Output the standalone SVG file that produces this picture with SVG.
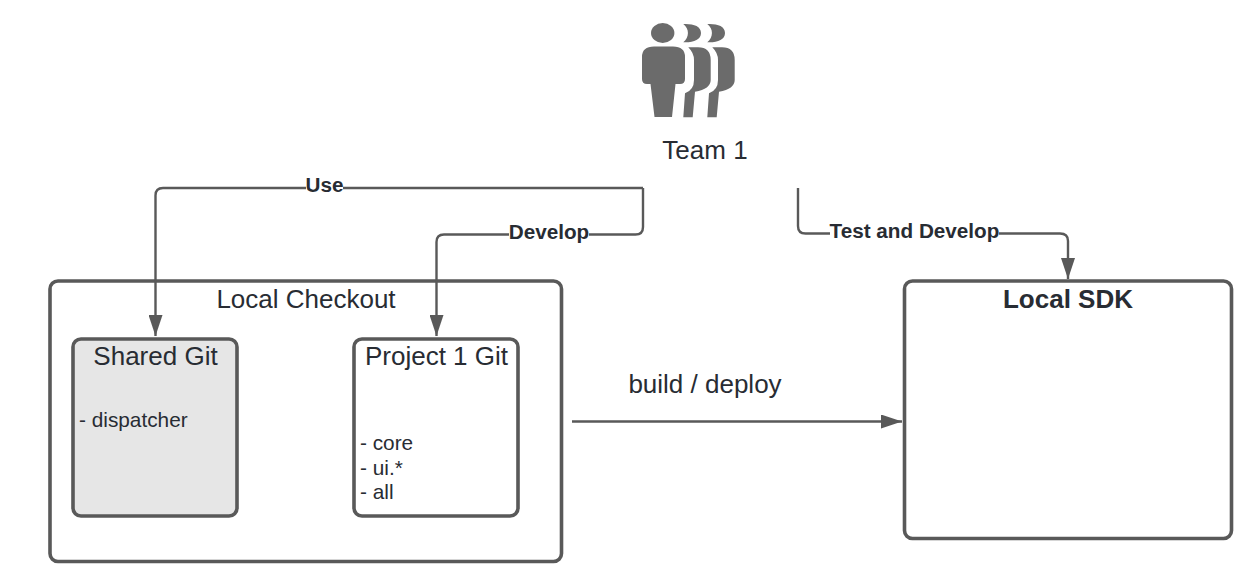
<svg xmlns="http://www.w3.org/2000/svg" width="1260" height="576" viewBox="0 0 1260 576">
<style>
text{font-family:"Liberation Sans",Arial,sans-serif;fill:#282c33}
.box{fill:#fff;stroke:#595959;stroke-width:3.6}
.line{fill:none;stroke:#595959;stroke-width:2.4}
.lbl{font-size:20.700px;font-weight:bold;text-anchor:middle}
.t{font-size:26px;text-anchor:middle}
.s{font-size:20.800px}
.icon{fill:#6b6b6b}
</style>
<defs>
<marker id="arrow" markerUnits="userSpaceOnUse" markerWidth="21" markerHeight="14" refX="21" refY="7" orient="auto" viewBox="0 0 21 14"><path d="M0 0L21 7L0 14Z" fill="#595959"/></marker>
</defs>
<rect width="1260" height="576" fill="#fff"/>
<g id="team">
<g class="icon">
<ellipse cx="662.700" cy="33" rx="11.700" ry="10"/>
<path d="M642 84V57Q642 46.500 654 46.500H673Q685 46.500 685 57V79Q685 84 680 84H675.500L672 117H654.500L650.500 84H647Q642 84 642 79Z"/>
<path d="M683.300 24C693 23.500 701 26 701 33C701 40 693 42.800 683.300 42.300C689.500 37 689.500 29 683.300 24Z"/>
<path d="M707.300 24C717 23.500 725 26 725 33C725 40 717 42.800 707.300 42.300C713.500 37 713.500 29 707.300 24Z"/>
<path d="M688.300 47.300H698Q710.700 47.300 710.700 60V80Q710.700 89 695 91.700L692.700 117.300H683.300L685 93.300Q694 90 694 80V60Q694 53 688.300 47.300Z"/>
<path d="M712.300 47.300H722Q734.700 47.300 734.700 60V80Q734.700 89 719 91.700L716.700 117.300H707.300L709 93.300Q718 90 718 80V60Q718 53 712.300 47.300Z"/>
</g>
<text x="705" y="159" class="t">Team 1</text>
</g>
<g id="local-checkout">
<rect class="box" x="50" y="281" width="511.500" height="280.500" rx="8"/>
<text x="306" y="308" class="t">Local Checkout</text>
</g>
<g id="local-sdk">
<rect class="box" x="904.500" y="281" width="327" height="257.500" rx="8"/>
<text x="1068" y="308" class="t" font-weight="bold">Local SDK</text>
</g>
<g id="shared-git">
<rect class="box" x="73" y="339" width="164" height="177" rx="8" style="fill:#e6e6e6"/>
<text x="155.500" y="365" class="t">Shared Git</text>
<text x="79" y="427" class="s">- dispatcher</text>
</g>
<g id="project-git">
<rect class="box" x="354" y="339" width="164" height="177" rx="8"/>
<text x="436.500" y="365" class="t">Project 1 Git</text>
<text x="360" y="450" class="s">- core</text>
<text x="360" y="475" class="s">- ui.*</text>
<text x="360" y="499" class="s">- all</text>
</g>
<g id="connectors">
<path class="line" d="M643 188H163Q155.500 188 155.500 195.500V336" marker-end="url(#arrow)"/>
<path class="line" d="M643 188V227Q643 234.500 635.500 234.500H444Q436.500 234.500 436.500 242V336" marker-end="url(#arrow)"/>
<path class="line" d="M798 188V226Q798 233.500 805.500 233.500H1060Q1068 233.500 1068 241V279" marker-end="url(#arrow)"/>
<path class="line" d="M572 421.500H902" marker-end="url(#arrow)"/>
<rect x="306" y="175" width="37" height="22" fill="#fff"/>
<rect x="509" y="221" width="80" height="22" fill="#fff"/>
<rect x="830" y="220" width="169" height="22" fill="#fff"/>
<text x="324.500" y="191.500" class="lbl">Use</text>
<text x="549" y="238.500" class="lbl">Develop</text>
<text x="914.500" y="237.500" class="lbl">Test and Develop</text>
<text x="705" y="393" class="t">build / deploy</text>
</g>
</svg>
